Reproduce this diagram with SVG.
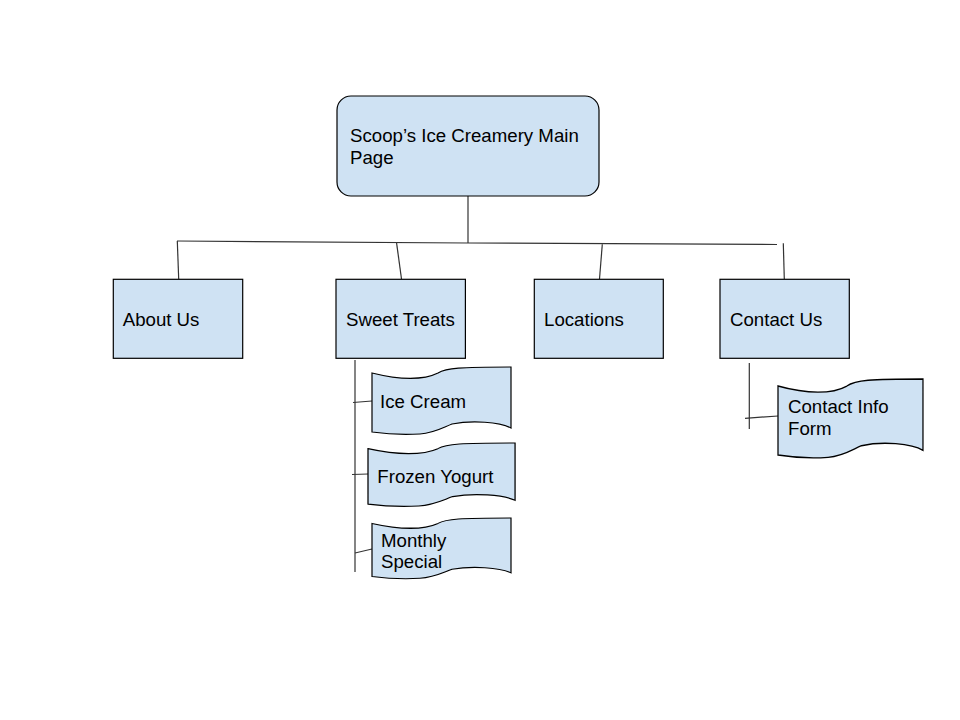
<svg xmlns="http://www.w3.org/2000/svg" width="960" height="720" viewBox="0 0 960 720">
<style>
.box{fill:#cfe2f3;stroke:#000;stroke-width:1.2}
.wave{fill:#cfe2f3;stroke:#000;stroke-width:1.2;vector-effect:non-scaling-stroke}
.lbl{font-family:"Liberation Sans",Arial,sans-serif;font-size:18.67px;fill:#000}
.con line{stroke:#333;stroke-width:1.2}
</style>
<defs>
<path id="wavePath" d="M0,6 C28,13 52,13 66,6 C74,1 88,0 139,0 L139,61 C128,55 100,53 80,57 C70,61 62,66 48,67 C32,68 14,67 0,65 Z"/>
</defs>
<rect width="960" height="720" fill="#fff"/>
<g id="connectors" class="con">
<line x1="468" y1="196" x2="468" y2="243"/>
<line x1="177" y1="241" x2="468" y2="243"/>
<line x1="468" y1="243" x2="777" y2="244.5"/>
<line x1="177.3" y1="241" x2="178.7" y2="279"/>
<line x1="396.5" y1="242.3" x2="401.5" y2="279"/>
<line x1="602.3" y1="244.3" x2="599.5" y2="279"/>
<line x1="783.3" y1="243.3" x2="784.3" y2="279"/>
<line x1="355" y1="360" x2="355" y2="572"/>
<line x1="353" y1="402.5" x2="372" y2="401"/>
<line x1="352" y1="474.5" x2="368" y2="474"/>
<line x1="355" y1="553" x2="372" y2="549"/>
<line x1="749.3" y1="363" x2="749.3" y2="429"/>
<line x1="745" y1="418.3" x2="778" y2="416"/>
</g>
<g id="main">
<rect class="box" x="337" y="96" width="262" height="100" rx="14" ry="14"/>
<text class="lbl" x="350" y="142">Scoop’s Ice Creamery Main</text>
<text class="lbl" x="350" y="163.5">Page</text>
</g>
<g id="about">
<rect class="box" x="113.3" y="279.3" width="129.4" height="79"/>
<text class="lbl" x="122.7" y="325.5">About Us</text>
</g>
<g id="sweet">
<rect class="box" x="336" y="279.3" width="129.4" height="79"/>
<text class="lbl" x="346" y="325.5">Sweet Treats</text>
</g>
<g id="locations">
<rect class="box" x="534.3" y="279.3" width="129" height="79"/>
<text class="lbl" x="544" y="325.5">Locations</text>
</g>
<g id="contact">
<rect class="box" x="720" y="279.3" width="129.3" height="79"/>
<text class="lbl" x="730" y="325.5">Contact Us</text>
</g>
<g id="icecream">
<use href="#wavePath" class="wave" transform="translate(372,367)"/>
<text class="lbl" x="380" y="408">Ice Cream</text>
</g>
<g id="frozen">
<use href="#wavePath" class="wave" transform="translate(368,443) scale(1.058,0.94)"/>
<text class="lbl" x="377.3" y="483">Frozen Yogurt</text>
</g>
<g id="monthly">
<use href="#wavePath" class="wave" transform="translate(372,518) scale(1,0.9)"/>
<text class="lbl" x="381" y="546.5">Monthly</text>
<text class="lbl" x="381" y="568">Special</text>
</g>
<g id="contactform">
<use href="#wavePath" class="wave" transform="translate(778,379) scale(1.043,1.17)"/>
<text class="lbl" x="788" y="412.5">Contact Info</text>
<text class="lbl" x="788" y="434.5">Form</text>
</g>
</svg>
